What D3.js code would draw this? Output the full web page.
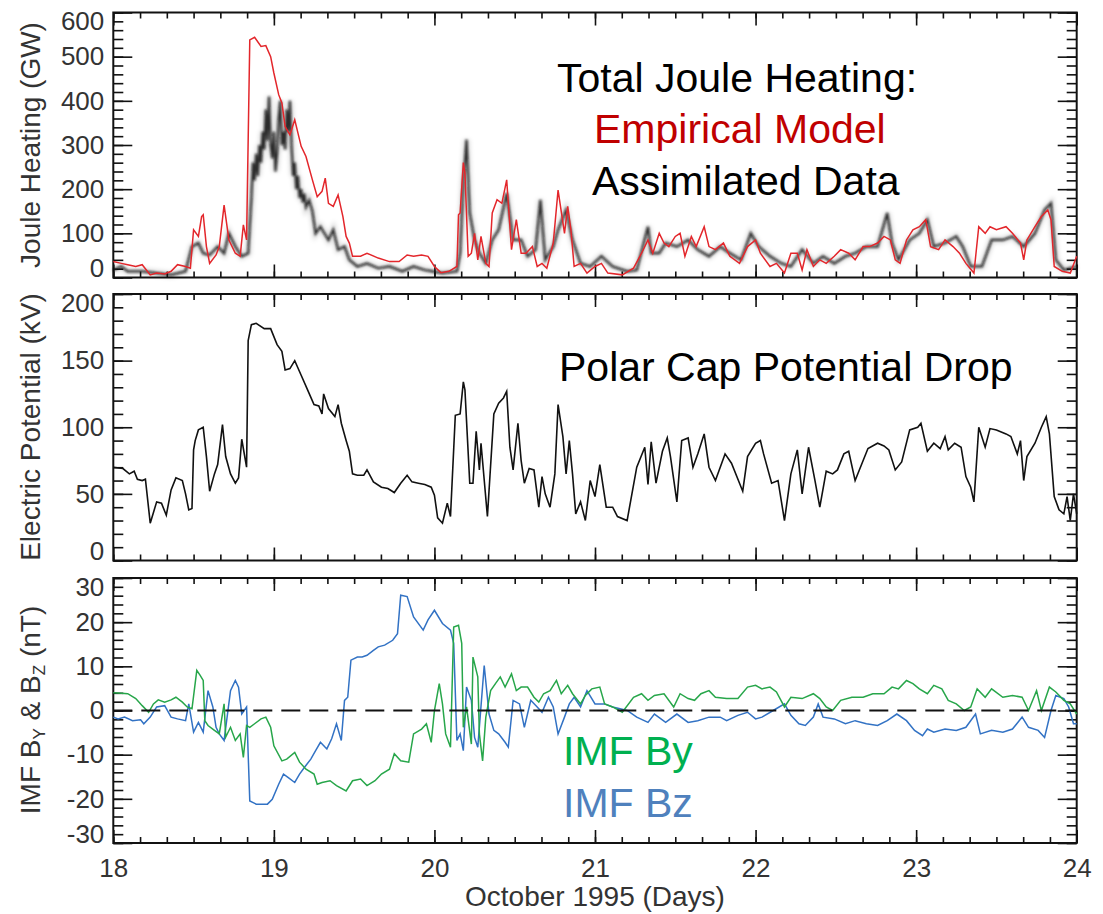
<html>
<head>
<script src="https://d3js.org/d3.v7.min.js"></script>
<style>
  body { margin: 0; background: #fff; }
  .tick text { font-family: "Liberation Sans", Arial, sans-serif; font-size: 26px; fill: #333; }
  .tick line { stroke: #111; stroke-width: 1.6; }
  .ytitle, .xtitle { font-family: "Liberation Sans", Arial, sans-serif; font-size: 28px; fill: #333; }
  .note { font-family: "Liberation Sans", Arial, sans-serif; font-size: 41px; }
</style>
</head>
<body>
<svg width="1103" height="914"></svg>
<script>
// ---- data: [day of October 1995, value] ----
var empirical = [[18.00,36],[18.05,32],[18.09,29],[18.14,25],[18.18,29],[18.23,6],[18.27,10],[18.32,8],[18.36,14],[18.40,29],[18.45,25],[18.48,21],[18.50,108],[18.53,93],[18.55,138],[18.56,142],[18.58,70],[18.60,32],[18.64,51],[18.66,70],[18.69,164],[18.72,85],[18.76,55],[18.79,48],[18.81,119],[18.83,85],[18.85,538],[18.88,544],[18.92,523],[18.95,525],[18.98,500],[19.00,463],[19.03,414],[19.05,395],[19.07,342],[19.10,323],[19.13,357],[19.17,297],[19.20,274],[19.24,221],[19.27,183],[19.30,195],[19.32,225],[19.34,168],[19.37,161],[19.40,187],[19.43,138],[19.45,93],[19.47,78],[19.49,48],[19.54,48],[19.58,55],[19.65,44],[19.72,36],[19.78,36],[19.83,51],[19.87,48],[19.92,51],[19.96,48],[20.00,25],[20.04,11],[20.09,14],[20.14,25],[20.15,142],[20.16,146],[20.18,260],[20.19,236],[20.21,48],[20.23,55],[20.25,100],[20.27,40],[20.29,93],[20.32,32],[20.34,25],[20.36,146],[20.39,176],[20.42,168],[20.45,221],[20.48,63],[20.51,131],[20.54,55],[20.57,55],[20.61,70],[20.64,25],[20.67,32],[20.70,21],[20.74,78],[20.77,198],[20.81,100],[20.83,161],[20.85,108],[20.87,25],[20.91,32],[20.95,10],[21.00,25],[21.04,32],[21.08,10],[21.17,6],[21.24,21],[21.29,55],[21.33,85],[21.36,55],[21.40,100],[21.43,78],[21.46,70],[21.50,93],[21.53,100],[21.56,48],[21.60,93],[21.63,70],[21.68,115],[21.71,70],[21.75,63],[21.80,78],[21.84,48],[21.90,32],[21.95,70],[22.00,85],[22.03,55],[22.09,25],[22.13,32],[22.18,10],[22.22,55],[22.26,55],[22.29,17],[22.32,63],[22.36,25],[22.40,40],[22.44,32],[22.49,48],[22.53,63],[22.58,55],[22.62,40],[22.67,70],[22.71,70],[22.76,78],[22.80,93],[22.84,85],[22.87,40],[22.90,32],[22.94,85],[22.98,108],[23.02,115],[23.06,131],[23.09,70],[23.14,63],[23.18,85],[23.23,70],[23.27,55],[23.31,32],[23.36,10],[23.39,115],[23.43,100],[23.46,115],[23.50,108],[23.56,115],[23.60,100],[23.65,78],[23.67,40],[23.69,85],[23.74,115],[23.78,138],[23.82,153],[23.84,131],[23.86,25],[23.91,14],[23.96,10],[24.00,48]];

var assimilated = [[18.00,17],[18.05,25],[18.09,14],[18.18,14],[18.27,10],[18.36,6],[18.45,14],[18.49,70],[18.53,78],[18.56,55],[18.60,51],[18.65,70],[18.69,55],[18.72,100],[18.76,70],[18.80,48],[18.84,55],[18.86,180],[18.87,260],[18.88,220],[18.89,280],[18.90,230],[18.91,300],[18.92,260],[18.93,330],[18.94,290],[18.95,380],[18.96,310],[18.97,410],[18.98,300],[18.99,270],[19.00,330],[19.01,240],[19.02,280],[19.03,360],[19.04,400],[19.05,300],[19.06,330],[19.07,290],[19.08,380],[19.09,330],[19.10,400],[19.11,300],[19.12,230],[19.13,260],[19.14,200],[19.15,230],[19.16,180],[19.17,200],[19.18,170],[19.19,190],[19.20,160],[19.22,175],[19.24,150],[19.26,100],[19.29,115],[19.34,85],[19.37,108],[19.40,63],[19.44,70],[19.47,40],[19.52,25],[19.58,32],[19.65,21],[19.72,25],[19.80,14],[19.87,25],[19.94,17],[19.99,14],[20.05,10],[20.14,14],[20.16,55],[20.18,213],[20.20,312],[20.22,146],[20.25,85],[20.28,55],[20.32,32],[20.36,85],[20.40,108],[20.45,191],[20.49,85],[20.54,85],[20.58,48],[20.63,63],[20.66,176],[20.69,40],[20.74,70],[20.77,108],[20.82,153],[20.86,85],[20.91,32],[20.97,25],[21.04,48],[21.11,25],[21.20,14],[21.26,17],[21.33,115],[21.35,55],[21.40,55],[21.44,78],[21.51,70],[21.58,85],[21.64,63],[21.71,48],[21.78,70],[21.84,55],[21.91,40],[21.97,100],[22.02,70],[22.09,48],[22.16,32],[22.22,25],[22.29,63],[22.36,32],[22.42,48],[22.49,32],[22.56,48],[22.62,55],[22.69,70],[22.76,70],[22.82,146],[22.85,78],[22.89,40],[22.96,85],[23.02,100],[23.07,131],[23.11,70],[23.18,78],[23.25,93],[23.29,70],[23.34,25],[23.41,25],[23.47,85],[23.54,85],[23.60,93],[23.67,70],[23.74,100],[23.80,153],[23.84,168],[23.87,40],[23.92,17],[24.00,25]];

var potential = [[18.00,70],[18.06,69],[18.10,65],[18.13,67],[18.15,61],[18.18,60],[18.20,61],[18.23,28],[18.27,44],[18.30,43],[18.33,34],[18.36,53],[18.39,62],[18.43,60],[18.45,50],[18.47,38],[18.49,39],[18.50,83],[18.51,90],[18.53,98],[18.56,100],[18.58,78],[18.60,52],[18.63,65],[18.65,72],[18.68,102],[18.70,78],[18.73,65],[18.76,58],[18.78,62],[18.80,91],[18.83,70],[18.84,165],[18.86,177],[18.89,178],[18.94,174],[18.98,174],[19.02,162],[19.05,157],[19.07,143],[19.10,144],[19.13,150],[19.17,139],[19.21,128],[19.25,117],[19.28,116],[19.30,110],[19.31,125],[19.34,114],[19.38,108],[19.40,117],[19.42,103],[19.45,90],[19.47,82],[19.49,65],[19.52,64],[19.56,64],[19.58,68],[19.62,59],[19.67,55],[19.71,54],[19.75,51],[19.79,58],[19.83,64],[19.86,59],[19.90,58],[19.94,57],[19.98,55],[20.00,49],[20.02,32],[20.05,28],[20.08,43],[20.10,33],[20.13,109],[20.16,110],[20.18,134],[20.19,128],[20.22,58],[20.24,58],[20.26,97],[20.28,68],[20.29,88],[20.33,33],[20.37,110],[20.40,118],[20.43,122],[20.45,127],[20.47,85],[20.49,68],[20.52,103],[20.54,75],[20.56,58],[20.59,69],[20.62,68],[20.65,40],[20.67,63],[20.69,50],[20.72,40],[20.75,65],[20.77,117],[20.80,93],[20.82,65],[20.84,90],[20.86,65],[20.88,35],[20.91,44],[20.94,30],[20.97,60],[21.00,48],[21.03,72],[21.07,40],[21.11,40],[21.14,33],[21.20,30],[21.26,70],[21.31,85],[21.33,57],[21.35,89],[21.38,58],[21.42,82],[21.45,92],[21.47,78],[21.51,44],[21.54,90],[21.58,92],[21.61,70],[21.64,80],[21.68,95],[21.71,70],[21.75,60],[21.81,80],[21.85,73],[21.92,52],[21.95,78],[22.00,88],[22.03,90],[22.05,80],[22.10,58],[22.14,60],[22.18,30],[22.22,65],[22.26,83],[22.29,50],[22.33,85],[22.37,60],[22.40,40],[22.44,67],[22.48,65],[22.51,68],[22.55,80],[22.58,82],[22.62,60],[22.67,75],[22.70,84],[22.76,88],[22.80,86],[22.83,83],[22.87,68],[22.91,74],[22.96,98],[23.01,100],[23.03,103],[23.07,82],[23.11,88],[23.15,84],[23.18,93],[23.20,83],[23.24,88],[23.28,85],[23.31,63],[23.34,55],[23.36,44],[23.39,100],[23.43,85],[23.46,99],[23.50,98],[23.56,95],[23.59,93],[23.63,80],[23.65,90],[23.67,60],[23.69,78],[23.74,88],[23.78,100],[23.81,108],[23.83,95],[23.86,48],[23.89,38],[23.92,35],[23.94,48],[23.96,30],[23.98,50],[24.00,35]];

var imfBy = [[18.00,4],[18.05,3.9],[18.09,3.8],[18.14,2.7],[18.18,1.1],[18.22,-0.4],[18.25,1.5],[18.28,2.4],[18.32,1.9],[18.36,2.4],[18.39,3],[18.43,1.9],[18.46,0.8],[18.49,0.4],[18.52,9.1],[18.54,8],[18.56,6.8],[18.57,-2.3],[18.59,-3.4],[18.63,-4.5],[18.66,-5.3],[18.69,1.5],[18.70,-6],[18.73,-3.8],[18.76,-6.8],[18.79,-5.3],[18.81,-10.6],[18.83,-3.4],[18.85,-3.8],[18.88,-3],[18.92,-1.9],[18.95,-1.5],[18.98,-3.8],[19.00,-8],[19.05,-11.4],[19.08,-11],[19.13,-9.5],[19.16,-11.7],[19.20,-13.3],[19.25,-14.4],[19.27,-16.7],[19.30,-16.3],[19.35,-15.9],[19.39,-17],[19.45,-18.2],[19.49,-15.9],[19.54,-15.5],[19.58,-17],[19.63,-15.9],[19.67,-14.4],[19.72,-13.3],[19.75,-9.8],[19.79,-11.4],[19.84,-11.7],[19.87,-5.3],[19.92,-4.2],[19.95,-3],[19.98,-7.2],[20.00,0],[20.03,6.1],[20.05,1.5],[20.07,-5.3],[20.10,-8.3],[20.12,18.9],[20.15,19.3],[20.17,15.2],[20.18,-3.8],[20.20,0.8],[20.23,-7.6],[20.24,12.1],[20.27,7.6],[20.28,-5.3],[20.30,-11.4],[20.32,-1.5],[20.35,4.5],[20.38,6.1],[20.41,7.6],[20.44,5.3],[20.48,8.3],[20.51,4.5],[20.54,5.3],[20.58,5.3],[20.62,3],[20.65,1.9],[20.68,3.8],[20.72,4.5],[20.76,6.8],[20.79,3.8],[20.83,5.7],[20.86,3.8],[20.91,1.5],[20.94,3.4],[20.98,4.9],[21.03,5.3],[21.06,1.5],[21.11,0.8],[21.17,-0.4],[21.24,3],[21.29,3.8],[21.33,2.3],[21.37,3.4],[21.43,3.8],[21.49,0.8],[21.53,3.8],[21.58,2.7],[21.62,2.3],[21.66,3.8],[21.71,4.5],[21.75,3],[21.82,2.7],[21.89,2.7],[21.95,5.3],[22.00,5.7],[22.04,4.9],[22.09,5.3],[22.13,4.2],[22.18,0.8],[22.22,3],[22.29,2.7],[22.36,3.8],[22.40,2.7],[22.44,0.8],[22.48,0],[22.53,2.3],[22.60,3],[22.67,3],[22.73,3.8],[22.80,3.8],[22.85,5.3],[22.89,4.9],[22.94,6.8],[22.98,6.1],[23.02,4.9],[23.07,3.8],[23.11,5.7],[23.16,4.9],[23.20,2.3],[23.25,1.5],[23.30,0],[23.34,0.8],[23.38,4.9],[23.43,3],[23.47,4.9],[23.54,3],[23.60,3.4],[23.66,3],[23.70,0],[23.75,4.5],[23.78,0],[23.83,5.3],[23.87,4.2],[23.92,2.3],[23.96,1.5],[24.00,-0.8]];

var imfBz = [[18.00,-1.5],[18.03,-1.9],[18.07,-1.5],[18.12,-2.3],[18.17,-2.1],[18.19,-3],[18.23,-1.5],[18.27,0.8],[18.32,1.1],[18.36,-1.5],[18.40,-1.9],[18.45,-2.3],[18.47,1.5],[18.50,-4.9],[18.53,-2.7],[18.56,-4.9],[18.59,4.5],[18.62,0.8],[18.64,-3.8],[18.66,-5.3],[18.69,-6.8],[18.73,4.5],[18.76,6.8],[18.78,5.3],[18.80,-0.8],[18.83,0.8],[18.85,-20.5],[18.89,-21.2],[18.96,-21.2],[18.99,-20.1],[19.03,-16.7],[19.06,-14.4],[19.09,-15.2],[19.13,-16.3],[19.16,-14.4],[19.19,-12.9],[19.23,-11],[19.26,-9.1],[19.29,-7.2],[19.33,-8.7],[19.36,-6.4],[19.39,-3],[19.42,-6.8],[19.44,2.3],[19.46,3],[19.48,11.4],[19.52,12.1],[19.55,12.1],[19.58,12.5],[19.62,13.6],[19.65,14.4],[19.69,14.8],[19.74,15.9],[19.77,17.4],[19.79,26.1],[19.83,25.8],[19.87,21.2],[19.93,18.2],[19.96,20.5],[20.00,22.7],[20.05,19.7],[20.10,18.2],[20.12,15.2],[20.14,-6.8],[20.16,-5.3],[20.18,-9.1],[20.20,5.3],[20.23,2.3],[20.25,-6.1],[20.27,-8.3],[20.31,10.2],[20.34,-0.8],[20.37,-4.5],[20.40,-5.3],[20.44,-7.2],[20.46,-8.3],[20.49,2.3],[20.53,1.5],[20.56,-3.8],[20.60,2.3],[20.64,0.8],[20.67,-0.4],[20.71,3],[20.74,0.8],[20.77,-5.3],[20.81,-1.5],[20.84,1.5],[20.87,3],[20.91,0.8],[20.95,4.5],[21.00,1.5],[21.06,1.5],[21.11,0.8],[21.20,0],[21.26,-1.5],[21.33,-2.7],[21.37,-0.8],[21.44,-2.7],[21.51,-0.8],[21.58,-2.7],[21.64,-2.3],[21.71,-1.5],[21.78,-1.5],[21.82,-2.3],[21.89,-1.1],[21.95,-0.4],[22.00,-1.9],[22.04,-1.5],[22.11,0],[22.18,1.5],[22.22,-1.1],[22.27,-3],[22.31,-3.4],[22.36,-1.5],[22.39,1.5],[22.42,-1.5],[22.49,-1.9],[22.56,-3],[22.62,-2.3],[22.69,-3],[22.76,-3.4],[22.82,-2.3],[22.88,-0.8],[22.94,-2.3],[22.99,-4.5],[23.04,-5.7],[23.07,-4.2],[23.11,-4.9],[23.18,-4.2],[23.25,-4.5],[23.31,-3.8],[23.37,-0.8],[23.40,-5.3],[23.47,-4.5],[23.54,-4.9],[23.60,-4.2],[23.66,-1.5],[23.70,-3.8],[23.76,-4.5],[23.80,-6.1],[23.84,0],[23.87,3.4],[23.92,2.7],[23.95,0.8],[23.98,-3],[24.00,-3]];

var dayTicks = [18, 19, 20, 21, 22, 23, 24];
var jouleTicks = [0, 100, 200, 300, 400, 500, 600];
var potentialTicks = [0, 50, 100, 150, 200];
var imfTicks = [-30, -20, -10, 0, 10, 20, 30];

var svg = d3.select("svg");
var x = d3.scaleLinear().domain([18, 24]).range([113.3, 1076.7]);

// minor ticks every 4 hours
var dayMinor = d3.range(18, 24.001, 1/6);

function panel(top, bottom, domain, major, minorStep, showX) {
	var y = d3.scaleLinear().domain(domain).range([bottom, top]);
	var g = svg.append("g");
	var minor = d3.range(domain[0], domain[1] + 0.001, minorStep);
	var left = "translate(" + x.range()[0] + ",0)", right = "translate(" + x.range()[1] + ",0)";

	g.append("g").attr("transform", left)
		.call(d3.axisLeft(y).tickValues(minor).tickSize(-10).tickFormat(""));
	g.append("g").attr("transform", left)
		.call(d3.axisLeft(y).tickValues(major).tickSize(-19).tickPadding(9).tickFormat(function (d) { return String(d); }))
		.selectAll("text").attr("y", function (d) { return d == domain[1] ? 9 : (d == domain[0] ? -9 : 0); });
	g.append("g").attr("transform", right)
		.call(d3.axisRight(y).tickValues(minor).tickSize(-10).tickFormat(""));
	g.append("g").attr("transform", right)
		.call(d3.axisRight(y).tickValues(major).tickSize(-19).tickFormat(""));

	g.append("g").attr("transform", "translate(0," + top + ")")
		.call(d3.axisTop(x).tickValues(dayMinor).tickSize(-6).tickFormat(""));
	g.append("g").attr("transform", "translate(0," + top + ")")
		.call(d3.axisTop(x).tickValues(dayTicks).tickSize(-13).tickFormat(""));
	g.append("g").attr("transform", "translate(0," + bottom + ")")
		.call(d3.axisBottom(x).tickValues(dayMinor).tickSize(-6).tickFormat(""));
	g.append("g").attr("transform", "translate(0," + bottom + ")")
		.call(d3.axisBottom(x).tickValues(dayTicks).tickSize(-13).tickPadding(16)
			.tickFormat(showX ? d3.format("d") : ""));

	g.selectAll(".domain").remove();
	g.append("rect").attr("x", x.range()[0]).attr("y", top)
		.attr("width", x.range()[1] - x.range()[0]).attr("height", bottom - top)
		.attr("fill", "none").attr("stroke", "#111").attr("stroke-width", 2);
	return y;
}

var defs = svg.append("defs");
defs.append("filter").attr("id", "soft").append("feGaussianBlur").attr("stdDeviation", 0.8);
defs.append("filter").attr("id", "halo").append("feGaussianBlur").attr("stdDeviation", 2);

// top panel: Joule heating
var yJ = panel(12.5, 277.5, [0, 600], jouleTicks, 20, false);
var lineJ = d3.line().x(function (d) { return x(d[0]); }).y(function (d) { return yJ(d[1]); });
svg.append("path").datum(assimilated).attr("d", lineJ).attr("fill", "none")
	.attr("stroke", "#000").attr("stroke-width", 6).attr("stroke-opacity", 0.16).attr("filter", "url(#halo)");
svg.append("path").datum(assimilated).attr("d", lineJ).attr("fill", "none")
	.attr("stroke", "#111").attr("stroke-width", 2.2).attr("stroke-opacity", 0.85).attr("filter", "url(#soft)");
svg.append("path").datum(empirical).attr("d", lineJ).attr("fill", "none")
	.attr("stroke", "#e3262b").attr("stroke-width", 1.5);

// middle panel: polar cap potential
var yP = panel(294, 560.5, [0, 200], potentialTicks, 10, false);
svg.append("path").datum(potential)
	.attr("d", d3.line().x(function (d) { return x(d[0]); }).y(function (d) { return yP(d[1]); }))
	.attr("fill", "none").attr("stroke", "#111").attr("stroke-width", 1.6);

// bottom panel: IMF
var yB = panel(578, 843, [-30, 30], imfTicks, 2, true);
var lineB = d3.line().x(function (d) { return x(d[0]); }).y(function (d) { return yB(d[1]); });
svg.append("path").datum(imfBz).attr("d", lineB).attr("fill", "none").attr("stroke", "#3272c4").attr("stroke-width", 1.5);
svg.append("path").datum(imfBy).attr("d", lineB).attr("fill", "none").attr("stroke", "#27a64a").attr("stroke-width", 1.5);
svg.append("line").attr("x1", x(18)).attr("x2", x(24)).attr("y1", yB(0)).attr("y2", yB(0))
	.attr("stroke", "#111").attr("stroke-width", 1.8).attr("stroke-dasharray", "19,9");

// axis titles
function ytitle(cy) {
	return svg.append("text").attr("class", "ytitle").attr("text-anchor", "middle")
		.attr("transform", "translate(40," + cy + ") rotate(-90)");
}
ytitle(145).text("Joule Heating (GW)");
ytitle(427).text("Electric Potential (kV)");
var t3 = ytitle(710);
t3.append("tspan").text("IMF B");
t3.append("tspan").attr("font-size", 17).attr("dy", 5).text("Y");
t3.append("tspan").attr("dy", -5).text(" & B");
t3.append("tspan").attr("font-size", 17).attr("dy", 5).text("Z");
t3.append("tspan").attr("dy", -5).text(" (nT)");

svg.append("text").attr("class", "xtitle").attr("text-anchor", "middle")
	.attr("x", (x.range()[0] + x.range()[1]) / 2).attr("y", 906).text("October 1995 (Days)");

// annotations
function note(px, py, txt, col) {
	svg.append("text").attr("class", "note").attr("x", px).attr("y", py).attr("fill", col).text(txt);
}
note(557, 92, "Total Joule Heating:", "#000");
note(594, 143, "Empirical Model", "#c00000");
note(592, 195, "Assimilated Data", "#000");
note(559, 381, "Polar Cap Potential Drop", "#000");
note(563, 765, "IMF By", "#00b050");
note(563, 817, "IMF Bz", "#4f81bd");
</script>
</body>
</html>
